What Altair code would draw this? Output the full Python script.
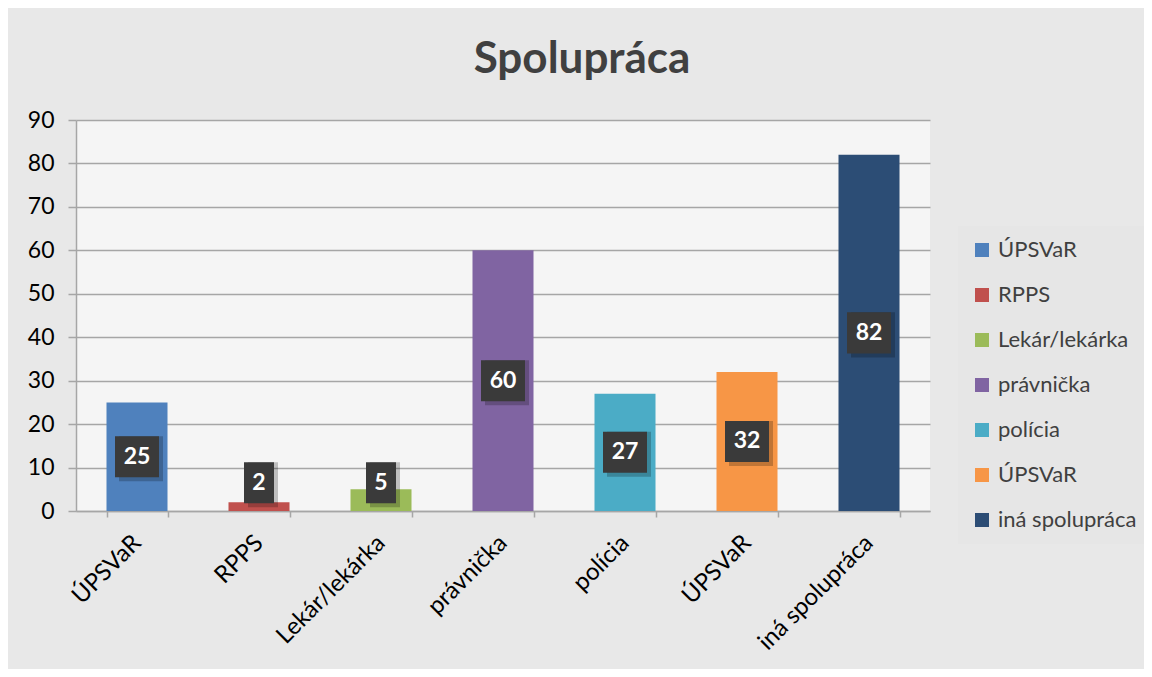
import json
import altair as alt
import pandas as pd

categories = ["ÚPSVaR", "RPPS", "Lekár/lekárka", "právnička", "polícia", "ÚPSVaR", "iná spolupráca"]
values = [25, 2, 5, 60, 27, 32, 82]
colors = ["#4f81bd", "#c0504d", "#9bbb59", "#8064a2", "#4bacc6", "#f79646", "#2c4d75"]
y_ticks = [0, 10, 20, 30, 40, 50, 60, 70, 80, 90]

idx = [str(i) for i in range(len(categories))]
df = pd.DataFrame({"idx": idx, "name": categories, "value": values})
names_js = json.dumps(categories, ensure_ascii=False)
label_expr = f"{names_js}[toNumber(datum.value)]"

FONT = "Lato"
TXT = "#404040"
GRID = "#a6a6a6"

x_enc = alt.X(
    "idx:N",
    sort=idx,
    title=None,
    scale=alt.Scale(domain=idx, paddingInner=0.5, paddingOuter=0.25),
    axis=alt.Axis(
        labelExpr=label_expr,
        labelAngle=-45,
        labelAlign="right",
        labelBaseline="middle",
        labelFontSize=24,
        labelFont=FONT,
        labelColor="#000000",
        labelPadding=22,
        labelOffset=0,
        tickBand="extent",
        tickSize=6,
        tickColor=GRID,
        tickWidth=1.5,
        domainColor=GRID,
        domainWidth=1.5,
        grid=False,
    ),
)

y_scale = alt.Scale(domain=[0, 90], nice=False)
y_axis = alt.Axis(
    values=y_ticks,
    labelFontSize=23,
    labelFont=FONT,
    labelColor="#000000",
    labelPadding=14,
    tickSize=8,
    tickColor=GRID,
    tickWidth=1.5,
    domainColor=GRID,
    domainWidth=1.5,
    gridColor=GRID,
    gridWidth=1.5,
    title=None,
)

base = alt.Chart(df)

bars = base.mark_bar(size=61).encode(
    x=x_enc,
    y=alt.Y("value:Q", scale=y_scale, axis=y_axis),
    color=alt.Color(
        "idx:N",
        scale=alt.Scale(domain=idx, range=colors),
        legend=alt.Legend(
            title=None,
            orient="none",
            legendX=882,
            legendY=106,
            labelExpr=label_expr,
            labelFont=FONT,
            labelFontSize=22,
            labelColor=TXT,
            labelOffset=5,
            symbolType="square",
            symbolSize=196,
            symbolStrokeWidth=0,
            symbolOpacity=1,
            rowPadding=23,
            padding=13,
            fillColor="#e6e6e6",
            labelLimit=220,
        ),
    ),
)

lab = base.transform_calculate(
    yc="max(datum.value / 2, 6.5)"
).transform_calculate(
    ylo="datum.yc - 4.72", yhi="datum.yc + 4.72"
)

def boxes(cond, w):
    d = lab.transform_filter(cond)
    shadow = d.mark_bar(size=w, color="#000000", opacity=0.22, xOffset=4, yOffset=4).encode(
        x=alt.X("idx:N", sort=idx),
        y=alt.Y("ylo:Q", scale=y_scale),
        y2="yhi:Q",
    )
    box = d.mark_bar(size=w, color="#3a3a3a").encode(
        x=alt.X("idx:N", sort=idx),
        y=alt.Y("ylo:Q", scale=y_scale),
        y2="yhi:Q",
    )
    return shadow + box

box2 = boxes("datum.value >= 10", 44)
box1 = boxes("datum.value < 10", 30)

texts = lab.mark_text(
    color="white", fontSize=23, fontWeight="bold", font=FONT, baseline="middle", align="center"
).encode(
    x=alt.X("idx:N", sort=idx),
    y=alt.Y("yc:Q", scale=y_scale),
    text="value:Q",
)

chart = (
    alt.layer(bars, box2, box1, texts)
    .properties(
        width=854,
        height=391,
        title=alt.TitleParams(
            "Spolupráca",
            fontSize=44,
            font=FONT,
            fontWeight="bold",
            color=TXT,
            anchor="middle",
            frame="group",
            dx=79,
            offset=27,
        ),
        autosize=alt.AutoSizeParams(type="none"),
        padding={"left": 68, "top": 112, "right": 214, "bottom": 158},
        background="#e8e8e8",
    )
    .configure_view(strokeWidth=0, fill="#f5f5f5")
)

chart.save("out.html", embed_options={"renderer": "svg", "actions": False})
